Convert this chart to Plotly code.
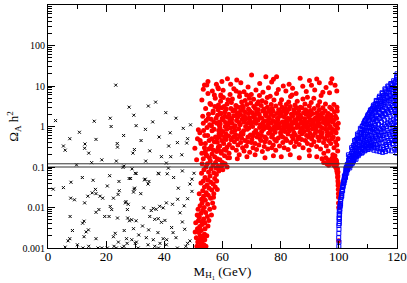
import plotly.graph_objects as go

# ---------------- data ----------------
# black crosses: M_H1 < 50 GeV
black_points = [
(2.6,1.4),(23.3,10.5),(27.9,3.0),(15.9,1.35),(21.4,1.6),(21.7,1.0),(29.5,1.9),(30.3,1.05),(10.8,0.72),(26,0.6),
(16.5,0.48),(5.3,0.33),(12.7,0.37),(23.8,0.38),(29.7,0.27),(33.5,0.85),(36,1.3),(38.2,0.55),(40.5,2.2),(42,0.7),
(44.5,0.4),(46.5,0.9),(35,0.25),(39,0.18),(18.5,0.15),(37,4.0),(32,0.45),(14,0.22),(7.5,0.5),(44,1.6),
(49,1.1),(41.5,0.33),(34.5,3.2),(5.9,0.26),(12.6,0.29),(23.9,0.31),(29.2,0.22),(23.5,0.14),(15,0.128),(9.8,0.113),
(30.3,0.069),(33.6,0.14),(40.7,0.125),(25.8,0.098),(42.2,0.18),(46,0.2),(47.7,0.39),(48,0.5),
(1.8,0.0284),(5.3,0.031),(7.9,0.042),(11.8,0.055),(15.5,0.047),(21.2,0.061),(20.4,0.034),(16.3,0.028),(16.5,0.022),(15.2,0.023),
(13.7,0.019),(12.6,0.013),(7.8,0.017),(9.1,0.0155),(17.9,0.019),(18.8,0.017),(21.4,0.0106),(21.9,0.0089),(17.5,0.0089),(16.5,0.0076),
(24.5,0.026),(26.8,0.014),(27.6,0.012),(27.3,0.0089),(24.1,0.021),(29.8,0.030),(29.4,0.024),(28.9,0.09),(26.1,0.105),(22.5,0.017),
(24.4,0.044),(28.4,0.052),(30,0.07),(33.2,0.048),(34.4,0.038),(38.1,0.068),(41,0.068),(27.9,0.052),(29.6,0.028),(31.9,0.022),
(26.6,0.013),(32.9,0.0098),(35.5,0.0084),(37.2,0.009),(38.4,0.0107),(39.6,0.0098),(40.7,0.013),(33.4,0.05),(34.7,0.044),(37.9,0.07),
(41.4,0.094),(46.2,0.08),(48.8,0.038),(49.5,0.05),(50.2,0.07),(49.5,0.025),(48,0.0165),(36.2,0.0095),(44.8,0.03),(43.2,0.055),
(19.5,0.006),(21,0.006),(7.6,0.006),(12.4,0.0046),(11.9,0.0041),(13.9,0.0028),(13.1,0.0025),(8.4,0.0027),(7.5,0.0017),(12.4,0.0019),
(16.5,0.0017),(10.1,0.0012),(5.9,0.00105),(14,0.0011),(17.2,0.001),(18.5,0.001),(20.4,0.001),(23.5,0.001),(23.9,0.0055),(27.4,0.0055),
(28,0.0047),(28.8,0.005),(30.3,0.0047),(29.4,0.003),(26.2,0.0027),(23.1,0.0023),(22.5,0.0019),(24.2,0.0014),(27,0.0017),(28.8,0.0016),
(26.1,0.0011),(27.2,0.0013),(22.7,0.0011),(30,0.0013),(35,0.006),(36.7,0.0051),(39,0.0043),(34.6,0.0028),(37.8,0.0024),(36.2,0.0016),
(39.6,0.0017),(40.7,0.0012),(36.7,0.0011),(34.4,0.0012),(30.4,0.0014),(6.9,0.0015),(37.9,0.0053),(40.2,0.0048),(42.5,0.0032),(43,0.0024),
(44,0.0018),(45.4,0.0074),(46.2,0.0044),(47,0.0029),(48,0.0013),(48.8,0.0015),(47.4,0.0011),(40.8,0.0016),(38.5,0.0013),(32.5,0.0035),
(31.2,0.0021),(33.8,0.0018),(42.8,0.012),(44.6,0.016),(46.8,0.011),(25.5,0.001),(31,0.001),(38,0.001),(44.5,0.001),(12,0.001),
]

# red dots: 50 GeV < M_H1 < 100 GeV
red_tail = [
(51.2,.0011),(51.8,.0010),(52.5,.0012),(53.1,.0010),(51.5,.0014),(52.1,.0016),(52.9,.0014),(53.6,.0012),(51.0,.0018),(52.4,.0020),
(53.3,.0018),(51.9,.0024),(52.7,.0027),(53.8,.0022),(51.4,.0030),(52.2,.0034),(53.0,.0038),(50.8,.0042),(51.7,.0047),(52.8,.0045),
(53.5,.0052),(52.0,.0058),(51.3,.0065),(53.9,.0016),(54.3,.0011),(50.6,.0025),(52.6,.0072),(53.2,.0085),(54.0,.0030),(54.6,.0020),
(51.6,.009),(52.3,.011),(53.0,.013),(53.7,.010),(54.2,.0075),(54.8,.006),(55.3,.0048),(52.8,.016),(53.5,.019),(54.1,.015),
(54.9,.012),(55.6,.009),(56.2,.0065),(52.0,.022),(53.2,.026),(54.4,.023),(55.1,.020),(55.9,.017),(56.6,.013),(57.1,.010),
(53.8,.032),(54.7,.036),(55.4,.030),(56.3,.027),(57.0,.022),(52.6,.040),(53.4,.045),(55.0,.048),(56.0,.042),(56.8,.038),
(57.5,.032),(54.0,.055),(55.7,.060),(57.3,.052),(58.0,.045),(51.9,.006),(53.9,.0042),(55.0,.0035),(56.9,.018),(58.2,.028),
(52.8,.07),(53.6,.085),(54.3,.10),(55.2,.075),(56.1,.09),(57.0,.072),(57.9,.065),(58.7,.08),(54.8,.12),(55.8,.14),
(56.7,.11),(57.6,.13),(58.5,.105),(59.3,.095),(60.1,.085),(53.4,.16),(54.6,.19),(55.5,.17),(56.4,.21),(57.3,.18),
(58.2,.16),(59.1,.15),(60.0,.13),(60.9,.12),(61.6,.10),(54.1,.24),(55.3,.28),(56.9,.26),(58.0,.24),(59.6,.22),
(60.7,.19),(61.8,.17),(53.0,.12),(57.8,.095),(59.9,.11),(56.2,.33),(58.6,.31),(61.2,.26),
]
red_left = [
(52.3,.45),(53.5,.8),(54.1,.38),(54.9,.6),(55.6,1.1),(56.3,.5),(57.1,.85),(57.8,1.6),(55.2,2.0),(56.0,3.5),
(56.8,2.4),(57.5,5.0),(58.3,3.0),(55.0,6.5),(56.5,7.5),(58.6,8.5),(59.4,6.0),(57.2,.42),(58.9,.55),(59.7,.75),
(54.4,1.4),(53.8,.3),(58.1,1.2),(59.2,2.1),(56.1,1.5),(57.9,11),(59.8,13),(50.5,.29),(52.6,.38),(51.1,.15),
(51.7,.83),(53.4,1.2),(54.2,2.8),(55.7,3.7),(51.4,.5),(52.9,.22),(53.9,.6),(54.7,.95),(55.4,.45),(56.4,.78),
(57.0,1.3),(57.6,.55),(56.7,2.2),(55.9,.3),(53.2,1.8),(54.4,.2),(57.4,3.1),(56.2,1.05),(55.1,1.6),(52.2,.7),
]
red_main = [
(58.1,.52),(58.3,1.9),(58.4,.28),(58.6,3.4),(58.7,.8),(58.9,1.3),(58.2,.41),(58.5,2.6),(58.8,.65),(58.95,1.05),
(59.05,.33),(59.2,1.15),(59.35,4.2),(59.5,.62),(59.6,2.1),(59.75,.45),(59.9,1.6),(59.15,.9),(59.45,.24),(59.8,2.9),
(60.1,.75),(60.25,1.45),(60.4,.38),(60.55,3.1),(60.7,.55),(60.85,2.3),(60.95,1.0),(60.3,5.2),(60.6,.27),(60.8,1.8),
(61.05,1.25),(61.2,.48),(61.3,2.7),(61.45,.85),(61.6,.31),(61.75,1.7),(61.9,4.6),(61.15,.66),(61.55,3.6),(61.85,1.1),
(62.1,.58),(62.2,2.0),(62.35,.36),(62.5,1.35),(62.6,6.2),(62.75,.92),(62.9,2.8),(62.25,.22),(62.65,1.6),(62.95,.47),
(63.05,3.9),(63.2,.72),(63.3,1.2),(63.45,.3),(63.6,2.4),(63.7,.54),(63.85,1.85),(63.95,.95),(63.4,4.8),(63.15,1.5),
(64.1,.42),(64.2,2.6),(64.35,1.05),(64.5,.63),(64.6,3.3),(64.75,.26),(64.85,1.4),(64.95,2.05),(64.3,.8),(64.7,7.5),
(65.05,.5),(65.2,1.7),(65.3,.35),(65.45,3.0),(65.55,.88),(65.7,1.25),(65.85,5.5),(65.95,.6),(65.4,2.2),(65.75,.2),
(66.1,1.1),(66.25,.4),(66.35,2.5),(66.5,.7),(66.6,4.0),(66.75,1.5),(66.9,.3),(66.2,1.95),(66.55,.52),(66.85,3.2),
(67.05,.65),(67.15,2.9),(67.3,1.3),(67.4,.25),(67.55,1.8),(67.7,.45),(67.8,4.4),(67.95,1.0),(67.25,.78),(67.65,2.3),
(68.1,1.55),(68.2,.33),(68.35,3.5),(68.5,.85),(68.65,1.2),(68.75,.55),(68.9,2.1),(68.3,6.0),(68.6,.42),(68.95,2.7),
(69.05,.92),(69.2,1.65),(69.35,.23),(69.45,2.4),(69.6,.62),(69.7,3.8),(69.85,1.15),(69.95,.4),(69.25,5.0),(69.55,1.4),
(70.1,.48),(70.25,2.2),(70.35,1.0),(70.5,.3),(70.6,1.75),(70.75,3.1),(70.85,.7),(70.95,1.3),(70.4,.58),(70.7,4.7),
(71.05,1.9),(71.2,.38),(71.3,2.8),(71.45,.8),(71.6,1.2),(71.7,.27),(71.85,3.6),(71.95,.55),(71.35,1.5),(71.75,2.3),
(72.1,.65),(72.2,1.45),(72.35,4.1),(72.5,.35),(72.6,2.0),(72.75,.95),(72.85,1.7),(72.95,.5),(72.3,2.6),(72.7,5.8),
(73.05,1.1),(73.2,.45),(73.3,3.3),(73.45,.75),(73.55,1.6),(73.7,.24),(73.85,2.4),(73.95,1.25),(73.4,.6),(73.65,4.3),
(74.1,.85),(74.25,2.7),(74.35,.32),(74.5,1.35),(74.6,.55),(74.75,1.95),(74.9,3.9),(74.2,1.05),(74.55,.42),(74.85,2.2),
(75.05,.5),(75.15,1.8),(75.3,.95),(75.45,3.0),(75.55,.28),(75.7,1.4),(75.85,.68),(75.95,2.5),(75.4,5.2),(75.75,1.15),
(76.1,1.6),(76.2,.4),(76.35,2.3),(76.5,.78),(76.65,1.2),(76.75,3.5),(76.9,.55),(76.3,.9),(76.6,2.0),(76.95,.3),
(77.05,2.8),(77.2,.62),(77.3,1.4),(77.45,.35),(77.55,1.85),(77.7,4.5),(77.85,1.0),(77.95,.48),(77.35,2.4),(77.65,.85),
(78.1,.72),(78.2,1.25),(78.35,3.2),(78.5,.44),(78.65,2.1),(78.75,.9),(78.9,1.6),(78.3,.26),(78.6,6.5),(78.95,1.05),
(79.05,1.45),(79.2,.52),(79.3,2.6),(79.45,.95),(79.6,.33),(79.7,1.8),(79.85,3.7),(79.95,.7),(79.4,1.15),(79.75,2.2),
(80.1,.6),(80.25,1.95),(80.35,.82),(80.5,3.0),(80.6,1.3),(80.75,.4),(80.85,2.4),(80.95,1.0),(80.3,4.6),(80.7,.55),
(81.05,1.15),(81.2,.3),(81.3,1.7),(81.45,.75),(81.55,2.8),(81.7,.5),(81.85,1.35),(81.95,3.5),(81.4,.92),(81.75,2.05),
(82.1,.45),(82.2,2.3),(82.35,1.05),(82.5,.65),(82.6,1.6),(82.75,4.0),(82.9,.85),(82.3,1.3),(82.55,.27),(82.85,2.7),
(83.05,.78),(83.15,1.5),(83.3,3.1),(83.45,.4),(83.6,1.1),(83.7,2.0),(83.85,.58),(83.95,1.25),(83.4,5.5),(83.65,.95),
(84.1,1.8),(84.25,.5),(84.35,1.2),(84.5,2.6),(84.6,.7),(84.75,.32),(84.85,1.45),(84.95,3.4),(84.3,.88),(84.7,2.2),
(85.05,.62),(85.2,1.35),(85.3,.42),(85.45,2.1),(85.55,.95),(85.7,4.2),(85.85,1.65),(85.95,.5),(85.4,2.9),(85.75,1.1),
(86.1,1.0),(86.2,2.4),(86.35,.36),(86.5,1.5),(86.65,.72),(86.75,3.0),(86.9,1.2),(86.3,.55),(86.6,1.9),(86.95,.85),
(87.05,1.7),(87.2,.48),(87.3,2.9),(87.45,.9),(87.55,1.3),(87.7,.3),(87.85,2.2),(87.95,1.05),(87.35,.66),(87.65,4.8),
(88.1,.75),(88.25,1.55),(88.35,3.6),(88.5,.45),(88.6,1.15),(88.75,2.0),(88.9,.6),(88.3,1.3),(88.55,2.6),(88.85,.95),
(89.05,1.25),(89.2,.38),(89.3,2.3),(89.45,.82),(89.6,1.75),(89.7,.55),(89.85,3.2),(89.95,1.4),(89.4,1.0),(89.75,.26),
(90.1,.68),(90.2,1.9),(90.35,1.1),(90.5,3.9),(90.65,.5),(90.75,1.45),(90.9,.88),(90.3,2.5),(90.6,.35),(90.95,1.2),
(91.05,2.1),(91.2,.6),(91.3,1.3),(91.45,.42),(91.55,2.8),(91.7,.95),(91.85,1.6),(91.95,.7),(91.4,5.0),(91.75,1.05),
(92.1,.8),(92.25,1.5),(92.35,.32),(92.5,2.2),(92.6,1.1),(92.75,.55),(92.85,3.3),(92.95,1.3),(92.3,.98),(92.7,1.85),
(93.05,1.2),(93.2,.45),(93.3,2.6),(93.45,.75),(93.6,1.55),(93.7,.28),(93.85,2.0),(93.95,.62),(93.4,4.1),(93.65,1.0),
(94.1,.55),(94.2,1.7),(94.35,.9),(94.5,2.9),(94.65,1.25),(94.75,.4),(94.9,1.5),(94.3,.7),(94.6,2.2),(94.85,.22),
(95.05,1.35),(95.15,.5),(95.3,2.4),(95.45,.85),(95.55,1.1),(95.7,.33),(95.85,1.8),(95.95,.6),(95.4,3.6),(95.75,1.5),
(96.1,.72),(96.25,1.2),(96.35,2.1),(96.5,.45),(96.6,1.6),(96.75,.9),(96.9,3.0),(96.3,.25),(96.55,.6),(96.85,1.35),
(97.05,1.0),(97.2,.38),(97.3,1.9),(97.45,.68),(97.55,2.7),(97.7,.5),(97.85,1.3),(97.95,.2),(97.4,1.55),(97.75,.85),
(98.1,.55),(98.25,1.45),(98.35,.3),(98.5,2.3),(98.6,.8),(98.75,1.1),(98.9,.42),(98.3,3.5),(98.65,.19),(98.85,1.8),
(99.05,.7),(99.2,1.6),(99.3,.35),(99.45,2.4),(99.55,.9),(99.7,.5),(99.8,1.2),(99.35,3.0),(99.6,.25),(99.15,1.05),
(62.4,.17),(65.1,.16),(68.4,.18),(71.2,.2),(74.6,.17),(77.5,.19),(80.2,.18),(83.3,.2),(86.4,.17),(89.9,.19),
(92.4,.18),(94.2,.16),(94.8,.13),(95.9,.12),(96.5,.11),
]
red_top = [
(55.0,13),(53.4,8.3),(52.9,4.5),(53.8,10.6),(54.6,10.6),(61.7,15),(64.9,14),(70,18.6),(74.9,17),(77.5,14.7),
(78.6,17),(86.7,15.5),(92.4,14.8),(97.6,15),(89.9,13.6),(98.7,10.5),(80.9,10),(58.4,9.2),(60.2,7.8),(62.8,11),
(63.9,8.5),(66.3,12),(67.4,7.2),(68.8,9.5),(71.5,8),(72.8,11.5),(73.9,7),(75.8,9),(76.9,12.5),(79.2,8.2),
(81.8,7.5),(82.9,11),(84.1,8.8),(85.3,6.5),(87.6,9.8),(88.8,7.3),(90.6,10.5),(91.7,8),(93.3,12),(94.5,7),
(95.6,9.2),(96.8,6.8),(97.2,11.8),(99.3,7.5),(57.2,6),(59.5,5.5),(65.9,6.8),(69.9,6.2),(76.4,5.6),(83.9,6.0),
(89.2,5.3),(93.9,5.8),
]
red_funnel = [
(95.5,.17),(96.2,.15),(96.8,.14),(97.3,.13),(97.6,.16),(98.0,.12),(98.3,.11),(98.6,.13),(98.9,.1),(99.1,.095),
(99.3,.08),(99.0,.15),(99.5,.07),(99.6,.055),(99.4,.12),(99.7,.045),(99.75,.035),(99.8,.028),(99.85,.022),(99.9,.018),
(99.65,.06),(99.9,.013),(99.95,.01),(99.55,.09),(99.2,.14),(97.9,.17),(98.5,.16),(99.8,.04),(99.95,.0015),(99.7,.075),
]

# blue open squares: M_H1 > 100 GeV
blue_curve = [
(100.0,.0011),(100.05,.0014),(99.95,.0018),(100.0,.0023),(100.05,.0029),(100.0,.0036),(100.1,.0045),(100.05,.0055),(100.1,.0068),(100.15,.0082),
(100.15,.004),(100.2,.0052),(100.25,.0065),(100.3,.0078),(100.35,.009),(100.45,.011),(100.5,.0125),(100.6,.014),(100.7,.016),(100.8,.018),
(100.9,.02),(101.0,.022),(101.1,.025),(101.2,.028),(101.3,.031),(101.4,.035),(101.5,.038),(101.6,.042),(101.7,.046),(101.85,.05),
(102.0,.055),(102.1,.06),(102.2,.065),(102.35,.072),(102.5,.078),(102.65,.085),(102.8,.092),(102.95,.1),(101.3,.026),(101.8,.04),
(102.3,.055),(102.7,.07),(100.4,.0105),(100.6,.012),(101.0,.019),(101.5,.033),(102.0,.047),(102.6,.1),(102.9,.115),(102.4,.09),
(101.9,.06),(103.0,.085),
]
blue_band = [
(103.05,.09),(103.15,.12),(103.25,.1),(103.35,.15),(103.45,.11),(103.55,.13),(103.65,.18),(103.75,.095),(103.85,.14),(103.95,.12),(103.3,.2),(103.7,.16),
(104.05,.11),(104.15,.16),(104.25,.13),(104.35,.22),(104.45,.12),(104.55,.18),(104.65,.27),(104.75,.14),(104.85,.2),(104.95,.15),(104.4,.3),(104.8,.24),
(105.05,.14),(105.15,.22),(105.25,.17),(105.35,.32),(105.45,.16),(105.55,.26),(105.65,.42),(105.75,.19),(105.85,.3),(105.95,.21),(105.4,.45),(105.8,.36),
(106.05,.18),(106.15,.3),(106.25,.22),(106.35,.45),(106.45,.2),(106.55,.36),(106.65,.6),(106.75,.25),(106.85,.42),(106.95,.28),(106.4,.65),(106.8,.52),
(107.05,.21),(107.15,.4),(107.25,.27),(107.35,.62),(107.45,.24),(107.55,.5),(107.65,.85),(107.75,.3),(107.85,.55),(107.95,.35),(107.4,.9),(107.8,.72),
(108.05,.23),(108.1,.5),(108.2,.3),(108.3,.8),(108.4,.27),(108.5,.62),(108.55,1.2),(108.65,.35),(108.7,.95),(108.8,.42),(108.85,1.3),(108.9,.25),(108.95,.7),(108.45,.38),(108.75,.55),
(109.05,.26),(109.1,.65),(109.2,.33),(109.3,1.1),(109.4,.28),(109.45,.8),(109.55,1.6),(109.6,.4),(109.7,1.3),(109.75,.5),(109.85,1.8),(109.9,.3),(109.95,.95),(109.35,.45),(109.65,.7),
(110.05,.27),(110.1,.8),(110.2,.36),(110.3,1.4),(110.4,.3),(110.45,1.0),(110.55,2.2),(110.6,.48),(110.7,1.7),(110.75,.6),(110.85,2.5),(110.9,.33),(110.95,1.2),(110.35,.55),(110.65,.9),
(111.05,.28),(111.1,1.0),(111.2,.4),(111.3,1.8),(111.4,.31),(111.45,1.3),(111.55,2.8),(111.6,.52),(111.7,2.1),(111.75,.7),(111.85,3.2),(111.9,.35),(111.95,1.5),(111.35,.62),(111.65,.85),
(112.05,.26),(112.1,1.2),(112.2,.45),(112.3,2.2),(112.4,.3),(112.45,1.6),(112.55,3.6),(112.6,.58),(112.7,2.7),(112.75,.8),(112.85,4.4),(112.9,.36),(112.95,1.9),(112.35,.7),(112.65,1.05),
(113.05,.25),(113.1,1.4),(113.2,.5),(113.3,2.6),(113.4,.29),(113.45,1.8),(113.55,4.2),(113.6,.62),(113.7,3.1),(113.75,.9),(113.85,5.2),(113.9,.38),(113.95,2.2),(113.35,.75),(113.65,1.15),
(114.05,.24),(114.1,1.6),(114.2,.55),(114.3,3.0),(114.4,.28),(114.45,2.1),(114.55,5.0),(114.6,.7),(114.7,3.8),(114.75,1.0),(114.85,6.8),(114.9,.4),(114.95,2.5),(114.35,.85),(114.65,1.3),
(115.05,.23),(115.1,1.8),(115.2,.6),(115.3,3.5),(115.4,.3),(115.45,2.4),(115.55,6.0),(115.6,.75),(115.7,4.5),(115.75,1.1),(115.85,8.5),(115.9,.42),(115.95,2.9),(115.35,.9),(115.65,1.45),
(116.05,.24),(116.1,2.0),(116.2,.65),(116.3,4.0),(116.4,.32),(116.45,2.7),(116.55,7.0),(116.6,.8),(116.7,5.2),(116.75,1.2),(116.85,10),(116.9,.45),(116.95,3.2),(116.35,1.0),(116.65,1.6),
(117.05,.26),(117.1,2.2),(117.2,.7),(117.3,4.4),(117.4,.35),(117.45,3.0),(117.55,8.0),(117.6,.9),(117.7,5.8),(117.75,1.3),(117.85,11.5),(117.9,.5),(117.95,3.6),(117.35,1.1),(117.65,1.75),
(118.05,.25),(118.1,2.4),(118.2,.75),(118.3,4.8),(118.4,.38),(118.45,3.3),(118.55,9.0),(118.6,.95),(118.7,6.5),(118.75,1.45),(118.85,13.5),(118.9,.55),(118.95,4.0),(118.35,1.2),(118.65,1.9),
(119.05,.28),(119.1,2.6),(119.2,.8),(119.3,5.2),(119.4,.42),(119.45,3.6),(119.55,10),(119.6,1.05),(119.7,7.2),(119.75,1.6),(119.85,16),(119.9,.6),(119.95,4.4),(119.35,1.3),(119.65,2.1),
]
blue_fill = [
(103.5,.105),(104.1,.19),(104.7,.125),(105.2,.28),(105.9,.155),(106.3,.5),(106.7,.19),(107.1,.33),(107.6,.7),(107.9,.22),
(108.25,1.05),(108.6,.46),(108.9,.33),(109.15,1.45),(109.5,.36),(109.8,.58),(110.15,2.0),(110.5,.42),(110.8,.75),(110.25,1.1),
(111.15,2.4),(111.5,.46),(111.8,.95),(111.25,.34),(111.6,1.6),(112.15,3.1),(112.5,.52),(112.8,1.35),(112.25,.9),(112.6,2.4),
(113.15,3.6),(113.5,.44),(113.8,1.6),(113.25,.33),(113.6,2.8),(114.15,4.2),(114.5,.48),(114.8,1.9),(114.25,.62),(114.6,3.3),
(115.15,5.2),(115.5,.52),(115.8,2.1),(115.25,.27),(115.6,3.9),(116.15,6.0),(116.5,.55),(116.8,2.4),(116.25,.36),(116.6,4.5),
(117.15,7.0),(117.5,.62),(117.8,2.6),(117.25,.4),(117.6,5.0),(118.15,8.0),(118.5,.66),(118.8,3.0),(118.25,.45),(118.6,5.6),
(119.15,9.0),(119.5,.72),(119.8,3.2),(119.25,.5),(119.6,6.3),(119.0,12),(118.0,11),(117.0,9.5),(116.0,8.0),(115.0,6.5),
(114.0,5.6),(113.0,4.2),(112.0,3.4),(111.0,2.6),(110.0,1.9),(109.0,1.4),(108.0,1.0),(107.0,.7),(106.0,.48),(105.0,.34),
(119.5,13),(118.4,10.5),(117.3,8.6),(116.3,7.4),(115.3,5.8),(114.3,4.6),(113.3,3.7),(112.3,2.9),(111.3,2.3),(110.3,1.7),
]
blue_edge = [
(119.9,.22),(119.95,.3),(120.0,.38),(119.9,.48),(119.95,.6),(120.0,.75),(119.9,.9),(119.95,1.1),(120,1.35),(119.9,1.65),
(119.95,2.0),(120,2.4),(119.9,2.9),(119.95,3.5),(120,4.2),(119.9,5.0),(119.95,6.0),(120,7.2),(119.9,8.6),(119.95,10.3),
(120,12.3),(119.9,14.5),(119.95,17),(120,20),(120,.26),(119.98,.55),(119.98,1.0),(119.98,1.9),(119.98,3.8),(119.98,7.8),
]

relic_band = [0.1, 0.12]          # horizontal lines
x_ticks = [0, 20, 40, 60, 80, 100, 120]
x_minor = [10, 30, 50, 70, 90, 110]
y_ticks = [0.001, 0.01, 0.1, 1, 10, 100, 1000]
y_ticktext = ["0.001", "0.01", "0.1", "1", "10", "100", "1000"]
y_minor = [k * 10.0 ** d for d in range(-3, 3) for k in range(2, 10)]

# ---------------- figure ----------------
def split(pts):
    return [p[0] for p in pts], [p[1] for p in pts]

fig = go.Figure()

bx, by = split(black_points)
fig.add_trace(go.Scatter(x=bx, y=by, mode="markers",
                         marker=dict(symbol="x-thin", size=3, color="black",
                                     line=dict(width=1, color="black"))))

rx, ry = split(red_tail + red_left + red_main + red_top + red_funnel)
fig.add_trace(go.Scatter(x=rx, y=ry, mode="markers",
                         marker=dict(symbol="circle", size=5, color="#ff0000",
                                     line=dict(width=0))))

ux, uy = split(blue_curve + blue_band + blue_fill + blue_edge)
fig.add_trace(go.Scatter(x=ux, y=uy, mode="markers",
                         marker=dict(symbol="square-open", size=4, color="#0000ff",
                                     line=dict(width=1, color="#0000ff"))))

for v in relic_band:
    fig.add_trace(go.Scatter(x=[0, 120], y=[v, v], mode="lines",
                             line=dict(color="#333333", width=1)))

serif = "Liberation Serif, Times New Roman, serif"
fig.update_layout(
    width=407, height=283,
    margin=dict(l=48, r=10, t=5, b=35),
    paper_bgcolor="white", plot_bgcolor="white",
    showlegend=False,
    font=dict(family=serif, color="black"),
)
fig.update_xaxes(
    range=[0, 120], tickvals=x_ticks, ticks="inside", ticklen=7, tickwidth=1,
    tickcolor="black", showline=True, linecolor="black", linewidth=1, mirror="ticks",
    showgrid=False, zeroline=False, tickfont=dict(size=13, family=serif), automargin=False,
    ticklabelstandoff=-4,
    minor=dict(tickvals=x_minor, ticks="inside", ticklen=4, tickcolor="black"),
    title=dict(text="M<sub>H<sub>1</sub></sub> (GeV)", font=dict(size=13, family=serif), standoff=0),
)
fig.update_yaxes(
    type="log", range=[-3, 3], tickvals=y_ticks, ticktext=y_ticktext,
    ticks="inside", ticklen=7, tickwidth=1, tickcolor="black",
    showline=True, linecolor="black", linewidth=1, mirror="ticks", automargin=False,
    showgrid=False, zeroline=False, tickfont=dict(size=10, family=serif),
    minor=dict(tickvals=y_minor, ticks="inside", ticklen=4, tickcolor="black"),
    title=dict(text="Ω<sub>A</sub> h<sup>2</sup>", font=dict(size=13, family=serif), standoff=0),
)

fig.write_html("out.html", config={"displayModeBar": False},
               post_script="document.body.style.margin='0';")
